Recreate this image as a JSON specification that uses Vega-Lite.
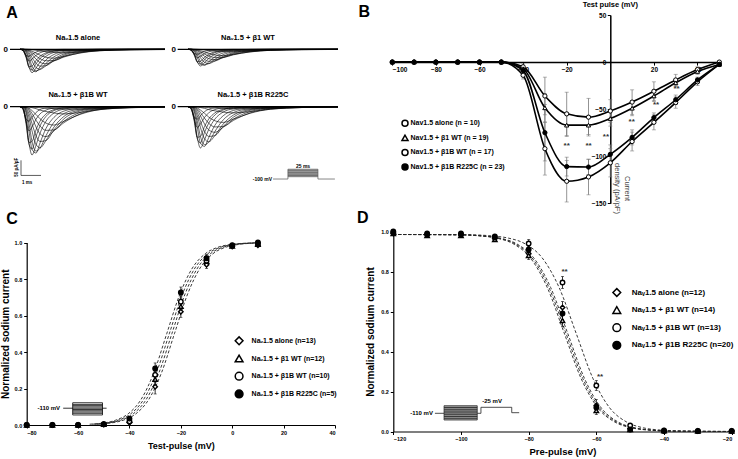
{
"$schema":"https://vega.github.io/schema/vega-lite/v6.json",
"background":"white",
"width":738,"height":459,
"autosize":{"type":"none"},
"padding":0,
"config":{
 "view":{"stroke":null},
 "font":"Liberation Sans",
 "axis":{"labelFont":"Liberation Sans","titleFont":"Liberation Sans","labelColor":"black","titleColor":"black","domainColor":"black","tickColor":"black","grid":false,"labelFontWeight":"bold","titleFontWeight":"bold"},
 "legend":{"labelFont":"Liberation Sans","labelFontWeight":"bold","labelColor":"black"},
 "text":{"font":"Liberation Sans","fontWeight":"bold","color":"black"}
},
"resolve":{"scale":{"x":"independent","y":"independent","shape":"independent","fill":"independent"},"axis":{"x":"independent","y":"independent"},"legend":{"shape":"independent","fill":"independent"}},
"datasets":{
 "tr":[
  {"k":0,"t":-0.5,"v":0},{"k":0,"t":7.25,"v":0},
  {"k":1,"t":0,"v":0},{"k":1,"t":0.15,"v":-0.05},{"k":1,"t":0.3,"v":-0.3},{"k":1,"t":0.45,"v":-0.5},{"k":1,"t":0.6,"v":-0.42},{"k":1,"t":0.8,"v":-0.26},{"k":1,"t":1,"v":-0.15},{"k":1,"t":1.3,"v":-0.07},{"k":1,"t":1.7,"v":-0.03},{"k":1,"t":2.2,"v":-0.015},{"k":1,"t":3,"v":-0.005},{"k":1,"t":4,"v":0},{"k":1,"t":5.5,"v":0},{"k":1,"t":7.25,"v":0},
  {"k":2,"t":0,"v":0},{"k":2,"t":0.15,"v":-0.04},{"k":2,"t":0.3,"v":-0.35},{"k":2,"t":0.45,"v":-0.74},{"k":2,"t":0.6,"v":-0.72},{"k":2,"t":0.8,"v":-0.48},{"k":2,"t":1,"v":-0.3},{"k":2,"t":1.3,"v":-0.15},{"k":2,"t":1.7,"v":-0.06},{"k":2,"t":2.2,"v":-0.025},{"k":2,"t":3,"v":-0.01},{"k":2,"t":4,"v":-0.003},{"k":2,"t":5.5,"v":0},{"k":2,"t":7.25,"v":0},
  {"k":3,"t":0,"v":0},{"k":3,"t":0.15,"v":-0.02},{"k":3,"t":0.3,"v":-0.25},{"k":3,"t":0.45,"v":-0.75},{"k":3,"t":0.6,"v":-1},{"k":3,"t":0.8,"v":-0.8},{"k":3,"t":1,"v":-0.55},{"k":3,"t":1.3,"v":-0.3},{"k":3,"t":1.7,"v":-0.13},{"k":3,"t":2.2,"v":-0.05},{"k":3,"t":3,"v":-0.015},{"k":3,"t":4,"v":-0.005},{"k":3,"t":5.5,"v":0},{"k":3,"t":7.25,"v":0},
  {"k":4,"t":0,"v":0},{"k":4,"t":0.15,"v":-0.01},{"k":4,"t":0.3,"v":-0.12},{"k":4,"t":0.45,"v":-0.5},{"k":4,"t":0.6,"v":-0.88},{"k":4,"t":0.8,"v":-0.96},{"k":4,"t":1,"v":-0.75},{"k":4,"t":1.3,"v":-0.45},{"k":4,"t":1.7,"v":-0.22},{"k":4,"t":2.2,"v":-0.09},{"k":4,"t":3,"v":-0.03},{"k":4,"t":4,"v":-0.01},{"k":4,"t":5.5,"v":0},{"k":4,"t":7.25,"v":0},
  {"k":5,"t":0,"v":0},{"k":5,"t":0.15,"v":0},{"k":5,"t":0.3,"v":-0.05},{"k":5,"t":0.45,"v":-0.22},{"k":5,"t":0.6,"v":-0.5},{"k":5,"t":0.8,"v":-0.78},{"k":5,"t":1,"v":-0.85},{"k":5,"t":1.3,"v":-0.7},{"k":5,"t":1.7,"v":-0.42},{"k":5,"t":2.2,"v":-0.2},{"k":5,"t":3,"v":-0.07},{"k":5,"t":4,"v":-0.02},{"k":5,"t":5.5,"v":-0.005},{"k":5,"t":7.25,"v":0},
  {"k":6,"t":0,"v":0},{"k":6,"t":0.15,"v":0},{"k":6,"t":0.3,"v":-0.02},{"k":6,"t":0.45,"v":-0.08},{"k":6,"t":0.6,"v":-0.22},{"k":6,"t":0.8,"v":-0.42},{"k":6,"t":1,"v":-0.56},{"k":6,"t":1.3,"v":-0.62},{"k":6,"t":1.7,"v":-0.5},{"k":6,"t":2.2,"v":-0.3},{"k":6,"t":3,"v":-0.12},{"k":6,"t":4,"v":-0.04},{"k":6,"t":5.5,"v":-0.01},{"k":6,"t":7.25,"v":0},
  {"k":7,"t":0,"v":0},{"k":7,"t":0.15,"v":0},{"k":7,"t":0.3,"v":-0.01},{"k":7,"t":0.45,"v":-0.03},{"k":7,"t":0.6,"v":-0.08},{"k":7,"t":0.8,"v":-0.16},{"k":7,"t":1,"v":-0.25},{"k":7,"t":1.3,"v":-0.34},{"k":7,"t":1.7,"v":-0.38},{"k":7,"t":2.2,"v":-0.3},{"k":7,"t":3,"v":-0.16},{"k":7,"t":4,"v":-0.06},{"k":7,"t":5.5,"v":-0.02},{"k":7,"t":7.25,"v":-0.005},
  {"k":8,"t":0,"v":0},{"k":8,"t":0.15,"v":0},{"k":8,"t":0.3,"v":0},{"k":8,"t":0.45,"v":-0.01},{"k":8,"t":0.6,"v":-0.02},{"k":8,"t":0.8,"v":-0.04},{"k":8,"t":1,"v":-0.07},{"k":8,"t":1.3,"v":-0.1},{"k":8,"t":1.7,"v":-0.13},{"k":8,"t":2.2,"v":-0.15},{"k":8,"t":3,"v":-0.12},{"k":8,"t":4,"v":-0.06},{"k":8,"t":5.5,"v":-0.02},{"k":8,"t":7.25,"v":-0.01},
  {"k":9,"t":0,"v":0},{"k":9,"t":0.15,"v":0},{"k":9,"t":0.3,"v":0},{"k":9,"t":0.45,"v":0},{"k":9,"t":0.6,"v":-0.01},{"k":9,"t":0.8,"v":-0.015},{"k":9,"t":1,"v":-0.02},{"k":9,"t":1.3,"v":-0.03},{"k":9,"t":1.7,"v":-0.04},{"k":9,"t":2.2,"v":-0.05},{"k":9,"t":3,"v":-0.05},{"k":9,"t":4,"v":-0.04},{"k":9,"t":5.5,"v":-0.02},{"k":9,"t":7.25,"v":-0.01},
  {"k":10,"t":0,"v":0},{"k":10,"t":0.15,"v":-0.06},{"k":10,"t":0.3,"v":-0.25},{"k":10,"t":0.45,"v":-0.3},{"k":10,"t":0.6,"v":-0.22},{"k":10,"t":0.8,"v":-0.12},{"k":10,"t":1,"v":-0.06},{"k":10,"t":1.3,"v":-0.025},{"k":10,"t":1.7,"v":-0.01},{"k":10,"t":2.2,"v":0},{"k":10,"t":3,"v":0},{"k":10,"t":4,"v":0},{"k":10,"t":5.5,"v":0},{"k":10,"t":7.25,"v":0},
  {"k":11,"t":0,"v":0},{"k":11,"t":0.15,"v":-0.03},{"k":11,"t":0.3,"v":-0.3},{"k":11,"t":0.45,"v":-0.78},{"k":11,"t":0.6,"v":-0.88},{"k":11,"t":0.8,"v":-0.62},{"k":11,"t":1,"v":-0.4},{"k":11,"t":1.3,"v":-0.2},{"k":11,"t":1.7,"v":-0.08},{"k":11,"t":2.2,"v":-0.03},{"k":11,"t":3,"v":-0.01},{"k":11,"t":4,"v":0},{"k":11,"t":5.5,"v":0},{"k":11,"t":7.25,"v":0},
  {"k":12,"t":0,"v":0},{"k":12,"t":0.15,"v":0},{"k":12,"t":0.3,"v":-0.08},{"k":12,"t":0.45,"v":-0.35},{"k":12,"t":0.6,"v":-0.72},{"k":12,"t":0.8,"v":-0.92},{"k":12,"t":1,"v":-0.86},{"k":12,"t":1.3,"v":-0.6},{"k":12,"t":1.7,"v":-0.32},{"k":12,"t":2.2,"v":-0.14},{"k":12,"t":3,"v":-0.05},{"k":12,"t":4,"v":-0.015},{"k":12,"t":5.5,"v":0},{"k":12,"t":7.25,"v":0},
  {"k":13,"t":0,"v":0},{"k":13,"t":0.15,"v":0},{"k":13,"t":0.3,"v":-0.03},{"k":13,"t":0.45,"v":-0.14},{"k":13,"t":0.6,"v":-0.35},{"k":13,"t":0.8,"v":-0.6},{"k":13,"t":1,"v":-0.72},{"k":13,"t":1.3,"v":-0.7},{"k":13,"t":1.7,"v":-0.48},{"k":13,"t":2.2,"v":-0.25},{"k":13,"t":3,"v":-0.09},{"k":13,"t":4,"v":-0.03},{"k":13,"t":5.5,"v":-0.01},{"k":13,"t":7.25,"v":0},
  {"k":14,"t":0,"v":0},{"k":14,"t":0.15,"v":0},{"k":14,"t":0.3,"v":-0.015},{"k":14,"t":0.45,"v":-0.05},{"k":14,"t":0.6,"v":-0.14},{"k":14,"t":0.8,"v":-0.28},{"k":14,"t":1,"v":-0.4},{"k":14,"t":1.3,"v":-0.49},{"k":14,"t":1.7,"v":-0.48},{"k":14,"t":2.2,"v":-0.33},{"k":14,"t":3,"v":-0.15},{"k":14,"t":4,"v":-0.05},{"k":14,"t":5.5,"v":-0.015},{"k":14,"t":7.25,"v":0}
 ],
 "bp":[
  {"s":"a","x":-100,"y":0,"e":0},{"s":"a","x":-90,"y":0,"e":0},{"s":"a","x":-80,"y":0,"e":0},{"s":"a","x":-70,"y":0,"e":0},{"s":"a","x":-60,"y":0,"e":0},{"s":"a","x":-50,"y":0,"e":0},{"s":"a","x":-40,"y":-5,"e":3},{"s":"a","x":-30,"y":-36,"e":20},{"s":"a","x":-20,"y":-55,"e":23},{"s":"a","x":-10,"y":-58.5,"e":20},{"s":"a","x":0,"y":-52,"e":12},{"s":"a","x":10,"y":-42.5,"e":13},{"s":"a","x":20,"y":-31,"e":10},{"s":"a","x":30,"y":-19,"e":6},{"s":"a","x":40,"y":-8,"e":3},{"s":"a","x":50,"y":0,"e":1},
  {"s":"b","x":-100,"y":0,"e":0},{"s":"b","x":-90,"y":0,"e":0},{"s":"b","x":-80,"y":0,"e":0},{"s":"b","x":-70,"y":0,"e":0},{"s":"b","x":-60,"y":0,"e":0},{"s":"b","x":-50,"y":0,"e":0},{"s":"b","x":-40,"y":-7,"e":3},{"s":"b","x":-30,"y":-48.6,"e":15},{"s":"b","x":-20,"y":-67,"e":12},{"s":"b","x":-10,"y":-67,"e":10},{"s":"b","x":0,"y":-60,"e":8},{"s":"b","x":10,"y":-49,"e":8},{"s":"b","x":20,"y":-36,"e":6},{"s":"b","x":30,"y":-22,"e":4},{"s":"b","x":40,"y":-10,"e":3},{"s":"b","x":50,"y":-2.5,"e":1},
  {"s":"c","x":-100,"y":0,"e":0},{"s":"c","x":-90,"y":0,"e":0},{"s":"c","x":-80,"y":0,"e":0},{"s":"c","x":-70,"y":0,"e":0},{"s":"c","x":-60,"y":0,"e":0},{"s":"c","x":-50,"y":0,"e":0},{"s":"c","x":-40,"y":-14,"e":4},{"s":"c","x":-30,"y":-92,"e":28},{"s":"c","x":-20,"y":-126.6,"e":22},{"s":"c","x":-10,"y":-122,"e":19},{"s":"c","x":0,"y":-107,"e":15},{"s":"c","x":10,"y":-84.4,"e":10},{"s":"c","x":20,"y":-64,"e":8},{"s":"c","x":30,"y":-43,"e":6},{"s":"c","x":40,"y":-21,"e":4},{"s":"c","x":50,"y":-2.5,"e":1},
  {"s":"d","x":-100,"y":0,"e":0},{"s":"d","x":-90,"y":0,"e":0},{"s":"d","x":-80,"y":0,"e":0},{"s":"d","x":-70,"y":0,"e":0},{"s":"d","x":-60,"y":0,"e":0},{"s":"d","x":-50,"y":0,"e":0},{"s":"d","x":-40,"y":-9,"e":4},{"s":"d","x":-30,"y":-75,"e":30},{"s":"d","x":-20,"y":-111,"e":10},{"s":"d","x":-10,"y":-111.5,"e":8},{"s":"d","x":0,"y":-98,"e":10},{"s":"d","x":10,"y":-80,"e":8},{"s":"d","x":20,"y":-59,"e":5},{"s":"d","x":30,"y":-40,"e":5},{"s":"d","x":40,"y":-19,"e":3},{"s":"d","x":50,"y":-2.5,"e":1}
 ],
 "cp":[
  {"s":"a","x":-80,"y":0,"e":0},{"s":"a","x":-70,"y":0,"e":0},{"s":"a","x":-60,"y":0,"e":0},{"s":"a","x":-50,"y":0.003,"e":0},{"s":"a","x":-40,"y":0.013,"e":0.01},{"s":"a","x":-30,"y":0.21,"e":0.04},{"s":"a","x":-20,"y":0.62,"e":0.03},{"s":"a","x":-10,"y":0.878,"e":0.02},{"s":"a","x":0,"y":0.978,"e":0.005},{"s":"a","x":10,"y":0.985,"e":0.005},
  {"s":"b","x":-80,"y":0,"e":0},{"s":"b","x":-70,"y":0,"e":0},{"s":"b","x":-60,"y":0,"e":0},{"s":"b","x":-50,"y":0.003,"e":0},{"s":"b","x":-40,"y":0.027,"e":0.01},{"s":"b","x":-30,"y":0.25,"e":0.04},{"s":"b","x":-20,"y":0.65,"e":0.03},{"s":"b","x":-10,"y":0.896,"e":0.02},{"s":"b","x":0,"y":0.98,"e":0.005},{"s":"b","x":10,"y":0.99,"e":0.005},
  {"s":"c","x":-80,"y":0,"e":0},{"s":"c","x":-70,"y":0,"e":0},{"s":"c","x":-60,"y":0,"e":0},{"s":"c","x":-50,"y":0.004,"e":0},{"s":"c","x":-40,"y":0.02,"e":0.01},{"s":"c","x":-30,"y":0.275,"e":0.04},{"s":"c","x":-20,"y":0.676,"e":0.03},{"s":"c","x":-10,"y":0.9,"e":0.02},{"s":"c","x":0,"y":0.982,"e":0.005},{"s":"c","x":10,"y":0.995,"e":0.005},
  {"s":"d","x":-80,"y":0,"e":0},{"s":"d","x":-70,"y":0,"e":0},{"s":"d","x":-60,"y":0,"e":0},{"s":"d","x":-50,"y":0.005,"e":0},{"s":"d","x":-40,"y":0.035,"e":0.01},{"s":"d","x":-30,"y":0.31,"e":0.03},{"s":"d","x":-20,"y":0.726,"e":0.03},{"s":"d","x":-10,"y":0.914,"e":0.02},{"s":"d","x":0,"y":0.985,"e":0.005},{"s":"d","x":10,"y":1,"e":0.005}
 ],
 "cf":[
  {"s":"a","x":-52.5,"y":0.0043},{"s":"a","x":-47.5,"y":0.0105},{"s":"a","x":-42.5,"y":0.0257},{"s":"a","x":-37.5,"y":0.0614},{"s":"a","x":-32.5,"y":0.1397},{"s":"a","x":-27.5,"y":0.2873},{"s":"a","x":-22.5,"y":0.5},{"s":"a","x":-17.5,"y":0.7127},{"s":"a","x":-12.5,"y":0.8603},{"s":"a","x":-7.5,"y":0.9386},{"s":"a","x":-2.5,"y":0.9743},{"s":"a","x":2.5,"y":0.9895},{"s":"a","x":7.5,"y":0.9957},{"s":"a","x":10,"y":0.997},
  {"s":"b","x":-53.5,"y":0.0043},{"s":"b","x":-48.5,"y":0.0105},{"s":"b","x":-43.5,"y":0.0257},{"s":"b","x":-38.5,"y":0.0614},{"s":"b","x":-33.5,"y":0.1397},{"s":"b","x":-28.5,"y":0.2873},{"s":"b","x":-23.5,"y":0.5},{"s":"b","x":-18.5,"y":0.7127},{"s":"b","x":-13.5,"y":0.8603},{"s":"b","x":-8.5,"y":0.9386},{"s":"b","x":-3.5,"y":0.9743},{"s":"b","x":1.5,"y":0.9895},{"s":"b","x":6.5,"y":0.9957},{"s":"b","x":10,"y":0.998},
  {"s":"c","x":-54.5,"y":0.0043},{"s":"c","x":-49.5,"y":0.0105},{"s":"c","x":-44.5,"y":0.0257},{"s":"c","x":-39.5,"y":0.0614},{"s":"c","x":-34.5,"y":0.1397},{"s":"c","x":-29.5,"y":0.2873},{"s":"c","x":-24.5,"y":0.5},{"s":"c","x":-19.5,"y":0.7127},{"s":"c","x":-14.5,"y":0.8603},{"s":"c","x":-9.5,"y":0.9386},{"s":"c","x":-4.5,"y":0.9743},{"s":"c","x":0.5,"y":0.9895},{"s":"c","x":5.5,"y":0.9957},{"s":"c","x":10,"y":0.998},
  {"s":"d","x":-55.5,"y":0.0043},{"s":"d","x":-50.5,"y":0.0105},{"s":"d","x":-45.5,"y":0.0257},{"s":"d","x":-40.5,"y":0.0614},{"s":"d","x":-35.5,"y":0.1397},{"s":"d","x":-30.5,"y":0.2873},{"s":"d","x":-25.5,"y":0.5},{"s":"d","x":-20.5,"y":0.7127},{"s":"d","x":-15.5,"y":0.8603},{"s":"d","x":-10.5,"y":0.9386},{"s":"d","x":-5.5,"y":0.9743},{"s":"d","x":-0.5,"y":0.9895},{"s":"d","x":4.5,"y":0.9957},{"s":"d","x":10,"y":0.9985}
 ],
 "dp":[
  {"s":"a","x":-120,"y":0.99,"e":0},{"s":"a","x":-110,"y":0.985,"e":0},{"s":"a","x":-100,"y":0.985,"e":0},{"s":"a","x":-90,"y":0.965,"e":0},{"s":"a","x":-80,"y":0.89,"e":0.015},{"s":"a","x":-70,"y":0.62,"e":0.03},{"s":"a","x":-60,"y":0.13,"e":0.03},{"s":"a","x":-50,"y":0.015,"e":0.005},{"s":"a","x":-40,"y":0.003,"e":0},{"s":"a","x":-30,"y":0.002,"e":0},{"s":"a","x":-20,"y":0.002,"e":0},
  {"s":"b","x":-120,"y":0.99,"e":0},{"s":"b","x":-110,"y":0.98,"e":0},{"s":"b","x":-100,"y":0.98,"e":0},{"s":"b","x":-90,"y":0.96,"e":0},{"s":"b","x":-80,"y":0.88,"e":0.02},{"s":"b","x":-70,"y":0.555,"e":0.03},{"s":"b","x":-60,"y":0.105,"e":0.02},{"s":"b","x":-50,"y":0.01,"e":0},{"s":"b","x":-40,"y":0.003,"e":0},{"s":"b","x":-30,"y":0.002,"e":0},{"s":"b","x":-20,"y":0.002,"e":0},
  {"s":"c","x":-120,"y":1,"e":0},{"s":"c","x":-110,"y":0.985,"e":0},{"s":"c","x":-100,"y":0.985,"e":0},{"s":"c","x":-90,"y":0.975,"e":0},{"s":"c","x":-80,"y":0.94,"e":0.02},{"s":"c","x":-70,"y":0.745,"e":0.03},{"s":"c","x":-60,"y":0.23,"e":0.025},{"s":"c","x":-50,"y":0.03,"e":0.01},{"s":"c","x":-40,"y":0.005,"e":0},{"s":"c","x":-30,"y":0.003,"e":0},{"s":"c","x":-20,"y":0.003,"e":0},
  {"s":"d","x":-120,"y":0.995,"e":0},{"s":"d","x":-110,"y":0.99,"e":0},{"s":"d","x":-100,"y":0.99,"e":0},{"s":"d","x":-90,"y":0.97,"e":0},{"s":"d","x":-80,"y":0.91,"e":0.015},{"s":"d","x":-70,"y":0.59,"e":0.03},{"s":"d","x":-60,"y":0.12,"e":0.02},{"s":"d","x":-50,"y":0.01,"e":0},{"s":"d","x":-40,"y":0.003,"e":0},{"s":"d","x":-30,"y":0.002,"e":0},{"s":"d","x":-20,"y":0.002,"e":0}
 ],
 "df":[
  {"s":"a","x":-120,"y":0.985},{"s":"a","x":-103.5,"y":0.984},{"s":"a","x":-98.5,"y":0.983},{"s":"a","x":-93.5,"y":0.978},{"s":"a","x":-88.5,"y":0.967},{"s":"a","x":-83.5,"y":0.938},{"s":"a","x":-78.5,"y":0.868},{"s":"a","x":-73.5,"y":0.72},{"s":"a","x":-68.5,"y":0.4925},{"s":"a","x":-63.5,"y":0.265},{"s":"a","x":-58.5,"y":0.117},{"s":"a","x":-53.5,"y":0.047},{"s":"a","x":-48.5,"y":0.018},{"s":"a","x":-43.5,"y":0.007},{"s":"a","x":-38.5,"y":0.0025},{"s":"a","x":-20,"y":0},
  {"s":"b","x":-120,"y":0.985},{"s":"b","x":-104.5,"y":0.984},{"s":"b","x":-99.5,"y":0.983},{"s":"b","x":-94.5,"y":0.978},{"s":"b","x":-89.5,"y":0.967},{"s":"b","x":-84.5,"y":0.938},{"s":"b","x":-79.5,"y":0.868},{"s":"b","x":-74.5,"y":0.72},{"s":"b","x":-69.5,"y":0.4925},{"s":"b","x":-64.5,"y":0.265},{"s":"b","x":-59.5,"y":0.117},{"s":"b","x":-54.5,"y":0.047},{"s":"b","x":-49.5,"y":0.018},{"s":"b","x":-44.5,"y":0.007},{"s":"b","x":-39.5,"y":0.0025},{"s":"b","x":-20,"y":0},
  {"s":"c","x":-120,"y":0.985},{"s":"c","x":-101,"y":0.984},{"s":"c","x":-96,"y":0.983},{"s":"c","x":-91,"y":0.978},{"s":"c","x":-86,"y":0.967},{"s":"c","x":-81,"y":0.938},{"s":"c","x":-76,"y":0.868},{"s":"c","x":-71,"y":0.72},{"s":"c","x":-66,"y":0.4925},{"s":"c","x":-61,"y":0.265},{"s":"c","x":-56,"y":0.117},{"s":"c","x":-51,"y":0.047},{"s":"c","x":-46,"y":0.018},{"s":"c","x":-41,"y":0.007},{"s":"c","x":-36,"y":0.0025},{"s":"c","x":-20,"y":0},
  {"s":"d","x":-120,"y":0.985},{"s":"d","x":-104,"y":0.984},{"s":"d","x":-99,"y":0.983},{"s":"d","x":-94,"y":0.978},{"s":"d","x":-89,"y":0.967},{"s":"d","x":-84,"y":0.938},{"s":"d","x":-79,"y":0.868},{"s":"d","x":-74,"y":0.72},{"s":"d","x":-69,"y":0.4925},{"s":"d","x":-64,"y":0.265},{"s":"d","x":-59,"y":0.117},{"s":"d","x":-54,"y":0.047},{"s":"d","x":-49,"y":0.018},{"s":"d","x":-44,"y":0.007},{"s":"d","x":-39,"y":0.0025},{"s":"d","x":-20,"y":0}
 ]
},
"layer":[
 {"encoding":{
   "x":{"field":"t","type":"quantitative","scale":{"domain":[0,7.25],"range":[20,165],"nice":false,"zero":false},"axis":null},
   "y":{"field":"v","type":"quantitative","scale":{"domain":[-1,0],"range":[72.7,49.3],"nice":false,"zero":false},"axis":{"orient":"left","offset":-10,"values":[0],"domain":false,"ticks":false,"tickSize":0,"labelPadding":2.5,"labelFontSize":8,"title":null}}},
  "layer":[
   {"data":{"name":"tr"},"transform":[{"filter":"datum.k>0"}],"mark":{"type":"line","interpolate":"monotone","strokeWidth":0.6,"color":"black"},"encoding":{"detail":{"field":"k","type":"nominal"}}},
   {"data":{"name":"tr"},"transform":[{"filter":"datum.k==0"}],"mark":{"type":"line","strokeWidth":1.3,"color":"black"},"encoding":{}},
   {"data":{"values":[{"t":2.9,"v":0.483,"txt":"Naᵥ1.5 alone"}]},"mark":{"type":"text","fontSize":7.5},"encoding":{"text":{"field":"txt"}}},
   {"data":{"values":[{"t":-0.4,"v":1.55,"txt":"A"}]},"mark":{"type":"text","fontSize":16},"encoding":{"text":{"field":"txt"}}}
  ]},
 {"encoding":{
   "x":{"field":"t","type":"quantitative","scale":{"domain":[0,7.25],"range":[188,338],"nice":false,"zero":false},"axis":null},
   "y":{"field":"v","type":"quantitative","scale":{"domain":[-1,0],"range":[66,49.3],"nice":false,"zero":false},"axis":{"orient":"left","offset":-178,"values":[0],"domain":false,"ticks":false,"tickSize":0,"labelPadding":2.5,"labelFontSize":8,"title":null}}},
  "layer":[
   {"data":{"name":"tr"},"transform":[{"filter":"datum.k>0"}],"mark":{"type":"line","interpolate":"monotone","strokeWidth":0.6,"color":"black"},"encoding":{"detail":{"field":"k","type":"nominal"}}},
   {"data":{"name":"tr"},"transform":[{"filter":"datum.k==0"}],"mark":{"type":"line","strokeWidth":1.3,"color":"black"},"encoding":{}},
   {"data":{"values":[{"t":2.9,"v":0.677,"txt":"Naᵥ1.5 + β1 WT"}]},"mark":{"type":"text","fontSize":7.5},"encoding":{"text":{"field":"txt"}}}
  ]},
 {"encoding":{
   "x":{"field":"t","type":"quantitative","scale":{"domain":[0,7.25],"range":[20,165],"nice":false,"zero":false},"axis":null},
   "y":{"field":"v","type":"quantitative","scale":{"domain":[-1,0],"range":[155,106.7],"nice":false,"zero":false},"axis":{"orient":"left","offset":-10,"values":[0],"domain":false,"ticks":false,"tickSize":0,"labelPadding":2.5,"labelFontSize":8,"title":null}}},
  "layer":[
   {"data":{"name":"tr"},"transform":[{"filter":"datum.k>0"}],"mark":{"type":"line","interpolate":"monotone","strokeWidth":0.6,"color":"black"},"encoding":{"detail":{"field":"k","type":"nominal"}}},
   {"data":{"name":"tr"},"transform":[{"filter":"datum.k==0"}],"mark":{"type":"line","strokeWidth":1.3,"color":"black"},"encoding":{}},
   {"data":{"values":[{"t":2.9,"v":0.244,"txt":"Naᵥ1.5 + β1B WT"}]},"mark":{"type":"text","fontSize":7.5},"encoding":{"text":{"field":"txt"}}},
   {"data":{"values":[{"t":0.05,"t2":0.05,"v":-1.11,"v2":-1.423},{"t":0.05,"t2":1.05,"v":-1.423,"v2":-1.423}]},"mark":{"type":"rule","strokeWidth":0.8,"color":"#333"},"encoding":{"x2":{"field":"t2"},"y2":{"field":"v2"}}},
   {"data":{"values":[{"t":-0.15,"v":-1.256,"txt":"50 pA/pF"}]},"mark":{"type":"text","fontSize":4.5,"angle":270},"encoding":{"text":{"field":"txt"}}},
   {"data":{"values":[{"t":0.35,"v":-1.57,"txt":"1 ms"}]},"mark":{"type":"text","fontSize":4.5},"encoding":{"text":{"field":"txt"}}}
  ]},
 {"encoding":{
   "x":{"field":"t","type":"quantitative","scale":{"domain":[0,7.25],"range":[188,338],"nice":false,"zero":false},"axis":null},
   "y":{"field":"v","type":"quantitative","scale":{"domain":[-1,0],"range":[148,106.7],"nice":false,"zero":false},"axis":{"orient":"left","offset":-178,"values":[0],"domain":false,"ticks":false,"tickSize":0,"labelPadding":2.5,"labelFontSize":8,"title":null}}},
  "layer":[
   {"data":{"name":"tr"},"transform":[{"filter":"datum.k>0"}],"mark":{"type":"line","interpolate":"monotone","strokeWidth":0.6,"color":"black"},"encoding":{"detail":{"field":"k","type":"nominal"}}},
   {"data":{"name":"tr"},"transform":[{"filter":"datum.k==0"}],"mark":{"type":"line","strokeWidth":1.3,"color":"black"},"encoding":{}},
   {"data":{"values":[{"t":3.14,"v":0.283,"txt":"Naᵥ1.5 + β1B R225C"}]},"mark":{"type":"text","fontSize":7.5},"encoding":{"text":{"field":"txt"}}},
   {"data":{"values":[{"t":4.83,"t2":6.28,"v":-1.514,"v2":-1.695}]},"mark":{"type":"rect","color":"#aaaaaa"},"encoding":{"x2":{"field":"t2"},"y2":{"field":"v2"}}},
   {"data":{"values":[{"t":4.83,"t2":6.28,"v":-1.514,"v2":-1.514},{"t":4.83,"t2":6.28,"v":-1.55,"v2":-1.55},{"t":4.83,"t2":6.28,"v":-1.59,"v2":-1.59},{"t":4.83,"t2":6.28,"v":-1.63,"v2":-1.63},{"t":4.83,"t2":6.28,"v":-1.665,"v2":-1.665},{"t":4.83,"t2":6.28,"v":-1.695,"v2":-1.695},{"t":4.11,"t2":4.83,"v":-1.751,"v2":-1.751},{"t":4.83,"t2":4.83,"v":-1.751,"v2":-1.514},{"t":6.28,"t2":6.28,"v":-1.514,"v2":-1.751},{"t":6.28,"t2":7.1,"v":-1.751,"v2":-1.751}]},"mark":{"type":"rule","strokeWidth":0.7,"color":"#555"},"encoding":{"x2":{"field":"t2"},"y2":{"field":"v2"}}},
   {"data":{"values":[{"t":4.06,"v":-1.751,"txt":"-100 mV"}]},"mark":{"type":"text","fontSize":5,"align":"right"},"encoding":{"text":{"field":"txt"}}},
   {"data":{"values":[{"t":5.56,"v":-1.436,"txt":"25 ms"}]},"mark":{"type":"text","fontSize":5},"encoding":{"text":{"field":"txt"}}}
  ]},
 {"encoding":{
   "x":{"field":"x","type":"quantitative","scale":{"domain":[-100,50],"range":[392.3,719.3],"nice":false,"zero":false},"axis":{"orient":"bottom","offset":-396.9,"values":[-100,-80,-60,-40,-20,20,40],"title":null,"labelFontSize":6.5,"tickSize":3,"labelPadding":1.5,"domainWidth":1.5}},
   "y":{"field":"y","type":"quantitative","scale":{"domain":[-150,50],"range":[203.3,15],"nice":false,"zero":false},"axis":{"orient":"left","offset":-610.3,"values":[-150,-100,-50,0,50],"title":["Current","density (pA/pF)"],"titleAngle":90,"titleX":15.7,"titleY":188,"titleAlign":"center","titleBaseline":"middle","titleFontWeight":"normal","titleFontSize":7.5,"titleColor":"#444","labelFontSize":6.5,"tickSize":3,"labelPadding":1.5,"domainWidth":1.5}}},
  "layer":[
   {"data":{"name":"bp"},"transform":[{"filter":"datum.e>0"}],"mark":{"type":"errorbar","ticks":{"size":4},"color":"#777","thickness":0.8},"encoding":{"yError":{"field":"e"}}},
   {"data":{"name":"bp"},"mark":{"type":"line","interpolate":"monotone","strokeWidth":1.6,"color":"black"},"encoding":{"detail":{"field":"s","type":"nominal"}}},
   {"data":{"name":"bp"},"mark":{"type":"point","size":18,"strokeWidth":1,"opacity":1,"stroke":"black"},
    "encoding":{
     "shape":{"field":"s","type":"nominal","scale":{"domain":["a","b","c","d"],"range":["circle","triangle-up","circle","circle"]},
      "legend":{"orient":"none","legendX":401,"legendY":119.2,"title":null,"labelExpr":"datum.value=='a'?'Nav1.5 alone (n = 10)':datum.value=='b'?'Nav1.5 + β1 WT (n = 19)':datum.value=='c'?'Nav1.5 + β1B WT (n = 17)':'Nav1.5 + β1B R225C (n = 23)'","labelFontSize":7,"symbolSize":36,"labelOffset":1.5,"rowPadding":2.6,"padding":0,
       "encode":{"symbols":{"update":{"stroke":{"value":"black"},"strokeWidth":{"value":1.2},"opacity":{"value":1}}}}}},
     "fill":{"field":"s","type":"nominal","scale":{"domain":["a","b","c","d"],"range":["white","white","white","black"]},
      "legend":{"orient":"none","legendX":401,"legendY":119.2,"title":null,"labelExpr":"datum.value=='a'?'Nav1.5 alone (n = 10)':datum.value=='b'?'Nav1.5 + β1 WT (n = 19)':datum.value=='c'?'Nav1.5 + β1B WT (n = 17)':'Nav1.5 + β1B R225C (n = 23)'","labelFontSize":7,"symbolSize":36,"labelOffset":1.5,"rowPadding":2.6,"padding":0,
       "encode":{"symbols":{"update":{"stroke":{"value":"black"},"strokeWidth":{"value":1.2},"opacity":{"value":1}}}}}}}},
   {"data":{"values":[{"x":-20,"y":-89},{"x":-10,"y":-89},{"x":-2,"y":-80},{"x":9.8,"y":-63.5},{"x":21,"y":-46},{"x":30.4,"y":-29}]},"mark":{"type":"text","text":"**","fontSize":8,"color":"#333"},"encoding":{}},
   {"data":{"values":[{"x":0,"y":60.6,"txt":"Test pulse (mV)"}]},"mark":{"type":"text","fontSize":7.5},"encoding":{"text":{"field":"txt"}}},
   {"data":{"values":[{"x":-112.9,"y":53.2,"txt":"B"}]},"mark":{"type":"text","fontSize":16},"encoding":{"text":{"field":"txt"}}}
  ]},
 {"encoding":{
   "x":{"field":"x","type":"quantitative","scale":{"domain":[-80,40],"range":[26.7,335],"nice":false,"zero":false},"axis":{"orient":"bottom","offset":-34,"values":[-80,-60,-40,-20,0,20,40],"title":"Test-pulse (mV)","titleFontSize":9,"labelFontSize":5.5,"tickSize":3,"labelPadding":2,"titlePadding":6,"domainWidth":1.2}},
   "y":{"field":"y","type":"quantitative","scale":{"domain":[0,1],"range":[425,242.5],"nice":false},"axis":{"orient":"left","offset":-26.7,"values":[0,0.2,0.4,0.6,0.8,1],"format":".1f","title":"Normalized sodium current","titleFontSize":10,"labelFontSize":5.5,"tickSize":3,"labelPadding":2,"titlePadding":3.5,"domainWidth":1.2}}},
  "layer":[
   {"data":{"name":"cf"},"mark":{"type":"line","interpolate":"monotone","strokeDash":[3,2],"strokeWidth":0.9,"color":"#222"},"encoding":{"detail":{"field":"s","type":"nominal"}}},
   {"data":{"name":"cp"},"transform":[{"filter":"datum.e>0"}],"mark":{"type":"errorbar","ticks":{"size":3},"color":"black","thickness":0.8},"encoding":{"yError":{"field":"e"}}},
   {"data":{"name":"cp"},"mark":{"type":"point","size":20,"strokeWidth":1.4,"opacity":1,"stroke":"black"},
    "encoding":{
     "shape":{"field":"s","type":"nominal","scale":{"domain":["a","b","c","d"],"range":["diamond","triangle-up","circle","circle"]},
      "legend":{"orient":"none","legendX":234.1,"legendY":335.8,"title":null,"labelExpr":"datum.value=='a'?'Naᵥ1.5 alone (n=13)':datum.value=='b'?'Naᵥ1.5 + β1 WT (n=12)':datum.value=='c'?'Naᵥ1.5 + β1B WT (n=10)':'Naᵥ1.5 + β1B R225C (n=5)'","labelFontSize":7,"symbolSize":60,"labelOffset":7.5,"rowPadding":3.7,"padding":0,
       "encode":{"symbols":{"update":{"stroke":{"value":"black"},"strokeWidth":{"value":2},"opacity":{"value":1}}}}}},
     "fill":{"field":"s","type":"nominal","scale":{"domain":["a","b","c","d"],"range":["white","white","white","black"]},
      "legend":{"orient":"none","legendX":234.1,"legendY":335.8,"title":null,"labelExpr":"datum.value=='a'?'Naᵥ1.5 alone (n=13)':datum.value=='b'?'Naᵥ1.5 + β1 WT (n=12)':datum.value=='c'?'Naᵥ1.5 + β1B WT (n=10)':'Naᵥ1.5 + β1B R225C (n=5)'","labelFontSize":7,"symbolSize":60,"labelOffset":7.5,"rowPadding":3.7,"padding":0,
       "encode":{"symbols":{"update":{"stroke":{"value":"black"},"strokeWidth":{"value":2},"opacity":{"value":1}}}}}}}},
   {"data":{"values":[{"x":-62.1,"x2":-50.5,"y":0.055,"y2":0.122}]},"mark":{"type":"rect","fill":"white","stroke":"black","strokeWidth":0.8},"encoding":{"x2":{"field":"x2"},"y2":{"field":"y2"}}},
   {"data":{"values":[{"x":-65.8,"x2":-48.9,"y":0.092,"y2":0.092},{"x":-62.1,"x2":-50.5,"y":0.064,"y2":0.064},{"x":-62.1,"x2":-50.5,"y":0.071,"y2":0.071},{"x":-62.1,"x2":-50.5,"y":0.078,"y2":0.078},{"x":-62.1,"x2":-50.5,"y":0.085,"y2":0.085},{"x":-62.1,"x2":-50.5,"y":0.099,"y2":0.099},{"x":-62.1,"x2":-50.5,"y":0.106,"y2":0.106},{"x":-62.1,"x2":-50.5,"y":0.113,"y2":0.113}]},"mark":{"type":"rule","strokeWidth":0.8,"color":"black"},"encoding":{"x2":{"field":"x2"},"y2":{"field":"y2"}}},
   {"data":{"values":[{"x":-67,"y":0.092,"txt":"-110 mV"}]},"mark":{"type":"text","fontSize":6,"align":"right"},"encoding":{"text":{"field":"txt"}}},
   {"data":{"values":[{"x":-85.7,"y":1.129,"txt":"C"}]},"mark":{"type":"text","fontSize":16},"encoding":{"text":{"field":"txt"}}}
  ]},
 {"encoding":{
   "x":{"field":"x","type":"quantitative","scale":{"domain":[-120,-20],"range":[393.3,731.7],"nice":false,"zero":false},"axis":{"orient":"bottom","offset":-27.5,"values":[-120,-100,-80,-60,-40,-20],"title":"Pre-pulse (mV)","titleFontSize":9.5,"labelFontSize":5.5,"tickSize":3,"labelPadding":2,"titlePadding":4,"domainWidth":1.2}},
   "y":{"field":"y","type":"quantitative","scale":{"domain":[0,1],"range":[431.5,231.5],"nice":false},"axis":{"orient":"left","offset":-393.3,"values":[0,0.2,0.4,0.6,0.8,1],"format":".1f","title":"Normalized sodium current","titleFontSize":10,"labelFontSize":5.5,"tickSize":3,"labelPadding":2,"titlePadding":5.5,"domainWidth":1.2}}},
  "layer":[
   {"data":{"name":"df"},"mark":{"type":"line","interpolate":"monotone","strokeDash":[3,2],"strokeWidth":0.9,"color":"#222"},"encoding":{"detail":{"field":"s","type":"nominal"}}},
   {"data":{"name":"dp"},"transform":[{"filter":"datum.e>0"}],"mark":{"type":"errorbar","ticks":{"size":3},"color":"black","thickness":0.8},"encoding":{"yError":{"field":"e"}}},
   {"data":{"name":"dp"},"mark":{"type":"point","size":20,"strokeWidth":1.4,"opacity":1,"stroke":"black"},
    "encoding":{
     "shape":{"field":"s","type":"nominal","scale":{"domain":["a","b","c","d"],"range":["diamond","triangle-up","circle","circle"]},
      "legend":{"orient":"none","legendX":611.8,"legendY":287.5,"title":null,"labelExpr":"datum.value=='a'?'Naᵥ1.5 alone (n=12)':datum.value=='b'?'Naᵥ1.5 + β1 WT (n=14)':datum.value=='c'?'Naᵥ1.5 + β1B WT (n=13)':'Naᵥ1.5 + β1B R225C (n=20)'","labelFontSize":8,"symbolSize":60,"labelOffset":10,"rowPadding":3.6,"padding":0,
       "encode":{"symbols":{"update":{"stroke":{"value":"black"},"strokeWidth":{"value":2},"opacity":{"value":1}}}}}},
     "fill":{"field":"s","type":"nominal","scale":{"domain":["a","b","c","d"],"range":["white","white","white","black"]},
      "legend":{"orient":"none","legendX":611.8,"legendY":287.5,"title":null,"labelExpr":"datum.value=='a'?'Naᵥ1.5 alone (n=12)':datum.value=='b'?'Naᵥ1.5 + β1 WT (n=14)':datum.value=='c'?'Naᵥ1.5 + β1B WT (n=13)':'Naᵥ1.5 + β1B R225C (n=20)'","labelFontSize":8,"symbolSize":60,"labelOffset":10,"rowPadding":3.6,"padding":0,
       "encode":{"symbols":{"update":{"stroke":{"value":"black"},"strokeWidth":{"value":2},"opacity":{"value":1}}}}}}}},
   {"data":{"values":[{"x":-69.4,"y":0.8},{"x":-58.9,"y":0.274}]},"mark":{"type":"text","text":"**","fontSize":8,"color":"#333"},"encoding":{}},
   {"data":{"values":[{"x":-105,"x2":-95.2,"y":0.0575,"y2":0.129}]},"mark":{"type":"rect","fill":"#9a9a9a","stroke":"#333","strokeWidth":0.8},"encoding":{"x2":{"field":"x2"},"y2":{"field":"y2"}}},
   {"data":{"values":[{"x":-105,"x2":-95.2,"y":0.066,"y2":0.066},{"x":-105,"x2":-95.2,"y":0.075,"y2":0.075},{"x":-105,"x2":-95.2,"y":0.084,"y2":0.084},{"x":-105,"x2":-95.2,"y":0.093,"y2":0.093},{"x":-105,"x2":-95.2,"y":0.102,"y2":0.102},{"x":-105,"x2":-95.2,"y":0.111,"y2":0.111},{"x":-105,"x2":-95.2,"y":0.12,"y2":0.12},{"x":-107.7,"x2":-105,"y":0.091,"y2":0.091},{"x":-95.2,"x2":-94.1,"y":0.091,"y2":0.091},{"x":-94.1,"x2":-94.1,"y":0.091,"y2":0.121},{"x":-94.1,"x2":-85,"y":0.121,"y2":0.121},{"x":-85,"x2":-85,"y":0.121,"y2":0.094},{"x":-85,"x2":-82.8,"y":0.094,"y2":0.094}]},"mark":{"type":"rule","strokeWidth":0.8,"color":"#222"},"encoding":{"x2":{"field":"x2"},"y2":{"field":"y2"}}},
   {"data":{"values":[{"x":-108.3,"y":0.091,"txt":"-110 mV"}]},"mark":{"type":"text","fontSize":6,"align":"right"},"encoding":{"text":{"field":"txt"}}},
   {"data":{"values":[{"x":-90.8,"y":0.154,"txt":"-25 mV"}]},"mark":{"type":"text","fontSize":6},"encoding":{"text":{"field":"txt"}}},
   {"data":{"values":[{"x":-129,"y":1.0675,"txt":"D"}]},"mark":{"type":"text","fontSize":16},"encoding":{"text":{"field":"txt"}}}
  ]}
]
}
